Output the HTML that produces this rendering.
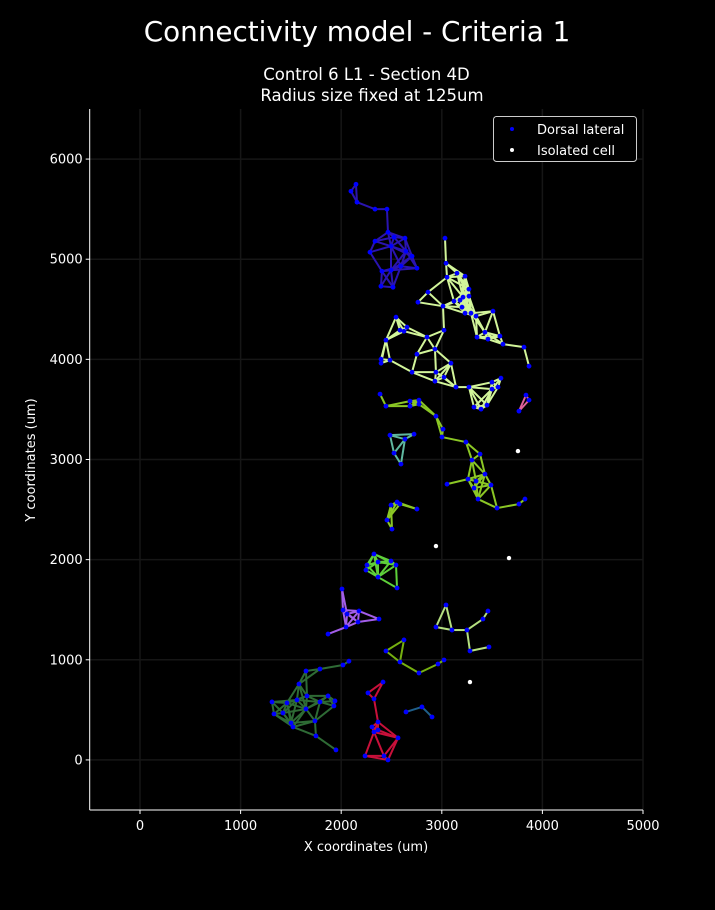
<!DOCTYPE html>
<html><head><meta charset="utf-8"><style>
html,body{margin:0;padding:0;background:#000;}
svg{display:block;font-family:"DejaVu Sans","Liberation Sans",sans-serif;}
</style></head><body>
<svg id="chart" width="715" height="910" viewBox="0 0 715 910" xmlns="http://www.w3.org/2000/svg">
<rect x="0" y="0" width="715" height="910" fill="#000"/>
<text x="357" y="41" fill="#fff" font-size="27.8" text-anchor="middle">Connectivity model - Criteria 1</text>
<text x="366.5" y="80" fill="#fff" font-size="16.5" text-anchor="middle">Control 6 L1 - Section 4D</text>
<text x="372" y="101" fill="#fff" font-size="16.5" text-anchor="middle">Radius size fixed at 125um</text>
<g id="grid"></g>
<g id="edges"></g>
<g id="nodes"></g>
<g id="axes"></g>
<text x="366" y="851" fill="#fff" font-size="13" text-anchor="middle">X coordinates (um)</text>
<text x="35" y="460" fill="#fff" font-size="13" text-anchor="middle" transform="rotate(-90 35 460)">Y coordinates (um)</text>
<g>
<rect x="493.5" y="116.5" width="143" height="45" rx="3" fill="#000" stroke="#ccc" stroke-width="1"/>
<circle cx="512" cy="129" r="2" fill="#0000ff"/>
<text x="537" y="134" fill="#fff" font-size="13">Dorsal lateral</text>
<circle cx="512" cy="150" r="2" fill="#fff"/>
<text x="537" y="155" fill="#fff" font-size="13">Isolated cell</text>
</g>
</svg>
<script>
const xTicks = [0, 1000, 2000, 3000, 4000, 5000];
const yTicks = [0, 1000, 2000, 3000, 4000, 5000, 6000];
const clusterColors = ["#2a14b0","#d2f59a","#e0609a","#8bc725","#5fb8a0","#8bc725","#5ed03a","#a35ee8","#b5e080","#76b010","#2e6b35","#c8103a","#1f5f8a"];
const clusterX = [
[2147,2097,2157,2336,2455,2465,2336,2286,2525,2634,2495,2644,2704,2753,2594,2495,2405,2395,2515],
[3032,3042,3052,3151,3231,3270,3270,3211,3181,3121,3201,3231,3290,3340,3509,2863,2763,3012,3429,3350,3459,3578,3608,3817,3867,2545,2584,2654,2624,2853,3022,2445,2932,2753,2396,2396,2485,3091,2704,2942,3022,2932,3141,3270,3499,3588,3559,3499,3320,3390,3449],
[3837,3867,3767],
[2386,2445,2684,2684,2773,2773,2942,3012,3002,3240,3380,3300,3429,3260,3340,3052,3320,3489,3360,3549,3767,3827],
[2485,2724,2634,2525,2594],
[2495,2555,2584,2753,2455,2505],
[2326,2366,2495,2545,2256,2246,2366,2555],
[2008,2018,2058,2177,2167,2048,2376,1869],
[3042,2942,3101,3250,3409,3459,3280,3469],
[2445,2624,2584,2773,2962,3022],
[2077,2018,1789,1650,1580,1312,1332,1461,1421,1560,1660,1869,1938,1928,1789,1650,1501,1521,1739,1749,1948],
[2416,2266,2326,2366,2306,2366,2326,2565,2425,2465,2237],
[2644,2803,2903]
];
const clusterY = [
[5748,5679,5569,5500,5500,5270,5180,5070,5220,5210,5130,5080,5030,4910,4930,4890,4880,4730,4720],
[5210,4960,4820,4860,4830,4701,4631,4621,4591,4581,4521,4461,4461,4431,4481,4671,4571,4531,4271,4222,4202,4232,4152,4122,3932,4421,4291,4321,4281,4222,4291,4192,4102,4052,4002,3962,3992,3962,3872,3872,3822,3782,3723,3723,3772,3812,3723,3703,3523,3503,3543],
[3643,3593,3483],
[3653,3533,3583,3533,3593,3553,3433,3303,3224,3174,3054,2994,2854,2804,2784,2754,2715,2745,2605,2515,2555,2605],
[3243,3253,3203,3064,2954],
[2545,2575,2555,2505,2395,2305],
[2056,1976,1986,1946,1946,1896,1826,1717],
[1707,1497,1457,1487,1377,1327,1407,1257],
[1547,1327,1297,1297,1407,1487,1088,1128],
[1088,1198,978,868,958,998],
[986,948,908,888,758,579,459,569,469,599,639,639,589,539,579,509,369,329,389,240,100],
[778,669,609,379,329,299,279,220,40,0,40],
[479,529,429]
];
const isolatedX = [3757, 2942, 3668, 3280];
const isolatedY = [3084, 2136, 2016, 778];
const radiusLink = 260;

const NS = "http://www.w3.org/2000/svg";
const X0 = 89.7, X1 = 643, XMIN = -500, XMAX = 5000;
const Y0 = 810, Y1 = 109, YMIN = -500, YMAX = 6500;
function sx(v){ return X0 + (v - XMIN) / (XMAX - XMIN) * (X1 - X0); }
function sy(v){ return Y0 - (v - YMIN) / (YMAX - YMIN) * (Y0 - Y1); }
function mk(tag, attrs, parent){ const e = document.createElementNS(NS, tag); for (const k in attrs) e.setAttribute(k, attrs[k]); parent.appendChild(e); return e; }

const grid = document.getElementById("grid");
const axes = document.getElementById("axes");
xTicks.forEach(t => {
  const g = mk("line", {x1: sx(t), x2: sx(t), y1: Y1, y2: Y0, stroke: "#161616", "stroke-width": 1.5}, grid);
  
  
  const tk = mk("line", {x1: sx(t), x2: sx(t), y1: Y0, y2: Y0 + 4, stroke: "#fff", "stroke-width": 1}, axes);
  
  
  const lb = mk("text", {x: sx(t), y: Y0 + 20, fill: "#fff", "font-size": 13, "text-anchor": "middle"}, axes);
  lb.textContent = t;
  
  
});
yTicks.forEach(t => {
  const g = mk("line", {x1: X0, x2: X1, y1: sy(t), y2: sy(t), stroke: "#161616", "stroke-width": 1.5}, grid);
  
  
  const tk = mk("line", {x1: X0 - 4, x2: X0, y1: sy(t), y2: sy(t), stroke: "#fff", "stroke-width": 1}, axes);
  
  
  const lb = mk("text", {x: X0 - 7, y: sy(t) + 4.5, fill: "#fff", "font-size": 13, "text-anchor": "end"}, axes);
  lb.textContent = t;
  
  
});
const sl = mk("line", {x1: X0, x2: X0, y1: Y1, y2: Y0, stroke: "#fff", "stroke-width": 1}, axes);


const sb = mk("line", {x1: X0, x2: X1, y1: Y0, y2: Y0, stroke: "#fff", "stroke-width": 1}, axes);



const edges = document.getElementById("edges");
const nodes = document.getElementById("nodes");
clusterX.forEach((xs, c) => {
  const ys = clusterY[c];
  for (let i = 0; i < xs.length; i++) for (let j = i + 1; j < xs.length; j++) {
    const d = Math.hypot(xs[i] - xs[j], ys[i] - ys[j]);
    if (d <= radiusLink) {
      const e = mk("line", {x1: sx(xs[i]), y1: sy(ys[i]), x2: sx(xs[j]), y2: sy(ys[j]), stroke: clusterColors[c], "stroke-width": 2}, edges);
      
      
    }
  }
  for (let i = 0; i < xs.length; i++) {
    const n = mk("circle", {cx: sx(xs[i]), cy: sy(ys[i]), r: 2.4, fill: "#0000ff"}, nodes);
    
    
  }
});
isolatedX.forEach((x, i) => {
  const n = mk("circle", {cx: sx(x), cy: sy(isolatedY[i]), r: 2.2, fill: "#fff"}, nodes);
  
  
});
</script>
</body></html>
